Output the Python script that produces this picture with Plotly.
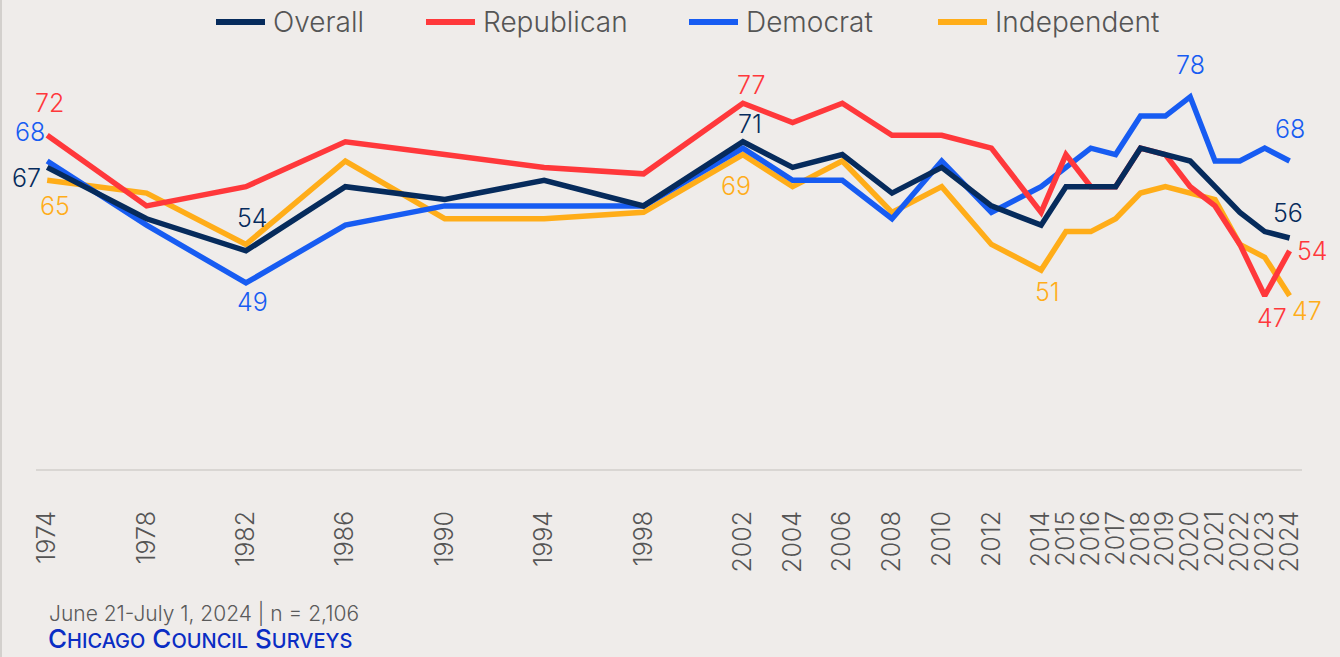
import plotly.graph_objects as go

years = [1974, 1978, 1982, 1986, 1990, 1994, 1998, 2002, 2004, 2006, 2008, 2010,
         2012, 2014, 2015, 2016, 2017, 2018, 2019, 2020, 2021, 2022, 2023, 2024]
overall     = [67, 59, 54, 64, 62, 65, 61, 71, 67, 69, 63, 67, 61, 58, 64, 64, 64, 70, 69, 68, 64, 60, 57, 56]
republican  = [72, 61, 64, 71, 69, 67, 66, 77, 74, 77, 72, 72, 70, 60, 69, 64, 64, 70, 69, 64, 61, 55, 47, 54]
democrat    = [68, 58, 49, 58, 61, 61, 61, 70, 65, 65, 59, 68, 60, 64, 67, 70, 69, 75, 75, 78, 68, 68, 70, 68]
independent = [65, 63, 55, 68, 59, 59, 60, 69, 64, 68, 60, 64, 55, 51, 57, 57, 59, 63, 64, 63, 62, 55, 53, 47]
tick_labels = [str(y) for y in years]
legend_names = ["Overall", "Republican", "Democrat", "Independent"]

series = {
    "Overall": (overall, "#062b5c"),
    "Republican": (republican, "#ff383b"),
    "Democrat": (democrat, "#175cf2"),
    "Independent": (independent, "#ffad19"),
}

FONT = "Inter"
BG = "#efecea"
W, H = 1340, 657
ML, MR, MT, MB = 36, 38, 84, 188
PW, PH = W - ML - MR, H - MT - MB


def px(xp):
    return (xp - ML) / PW


def py(yp):
    return (H - MB - yp) / PH


fig = go.Figure()
for name in ["Independent", "Democrat", "Republican", "Overall"]:
    vals, col = series[name]
    fig.add_trace(go.Scatter(x=years, y=vals, mode="lines", name=name,
                             line=dict(color=col, width=5.5), showlegend=False,
                             hoverinfo="x+y"))

# data labels: (series, year, xshift, yshift)
labels = [
    ("Republican", 1974, 2, 32), ("Democrat", 1974, -17, 29), ("Overall", 1974, -21, -11),
    ("Independent", 1974, 8, -26), ("Overall", 1982, 7, 33), ("Democrat", 1982, 7, -19),
    ("Republican", 2002, 8, 18), ("Overall", 2002, 7, 18), ("Independent", 2002, -7, -31),
    ("Independent", 2014, 6, -22), ("Democrat", 2020, 0, 32), ("Democrat", 2024, 0, 32),
    ("Overall", 2024, -2, 25), ("Republican", 2024, 23, 0), ("Republican", 2023, 7, -22),
    ("Independent", 2024, 17, -15),
]
for name, yr, xs, ys in labels:
    vals, col = series[name]
    v = vals[years.index(yr)]
    fig.add_annotation(x=yr, y=v, text=str(v), showarrow=False, xshift=xs, yshift=ys,
                       font=dict(family=FONT, size=25, color=col, weight=300))

# legend (drawn)
leg_line_x = [213, 423, 686, 935]
for name, lx in zip(legend_names, leg_line_x):
    col = series[name][1]
    fig.add_shape(type="line", xref="paper", yref="paper", x0=px(lx + 3), x1=px(lx + 52),
                  y0=py(22), y1=py(22), line=dict(color=col, width=6))
    fig.add_annotation(xref="paper", yref="paper", x=px(lx + 58), y=py(22),
                       xanchor="left", yanchor="middle", showarrow=False, text=name,
                       font=dict(family=FONT, size=28, color="#555555", weight=300))

# footer
fig.add_annotation(xref="paper", yref="paper", x=px(47), y=py(613),
                   xanchor="left", yanchor="middle", showarrow=False,
                   text="June 21-July 1, 2024 | n = 2,106",
                   font=dict(family=FONT, size=21, color="#5a5a5a", weight=300))
sc = "font-size:20px"
fig.add_annotation(xref="paper", yref="paper", x=px(46), y=py(638),
                   xanchor="left", yanchor="middle", showarrow=False,
                   text=(f"C<span style='{sc}'>HICAGO</span> C<span style='{sc}'>OUNCIL</span> "
                         f"S<span style='{sc}'>URVEYS</span>"),
                   font=dict(family=FONT, size=26, color="#0a2dc4", weight=500))

# left page border
fig.add_shape(type="line", xref="paper", yref="paper", x0=px(1), x1=px(1),
              y0=py(H), y1=py(0), line=dict(color="#d3d0cd", width=2))

fig.update_layout(
    width=W, height=H,
    paper_bgcolor=BG, plot_bgcolor=BG,
    margin=dict(l=ML, r=MR, t=MT, b=MB),
    font=dict(family=FONT, color="#555555"),
    showlegend=False,
    xaxis=dict(range=[1973.55, 2024.5], tickmode="array", tickvals=years, ticktext=tick_labels,
               tickangle=-90, tickfont=dict(family=FONT, size=25, color="#555555", weight=300),
               showgrid=False, zeroline=False, showline=True, linecolor="#d9d6d3", linewidth=2,
               ticks="", ticklabelstandoff=30),
    yaxis=dict(range=[20, 80], visible=False, showgrid=False, zeroline=False),
)

fig.write_html("out.html", config={"displayModeBar": False},
               post_script="document.body.style.margin='0';document.body.style.background='#efecea';")
